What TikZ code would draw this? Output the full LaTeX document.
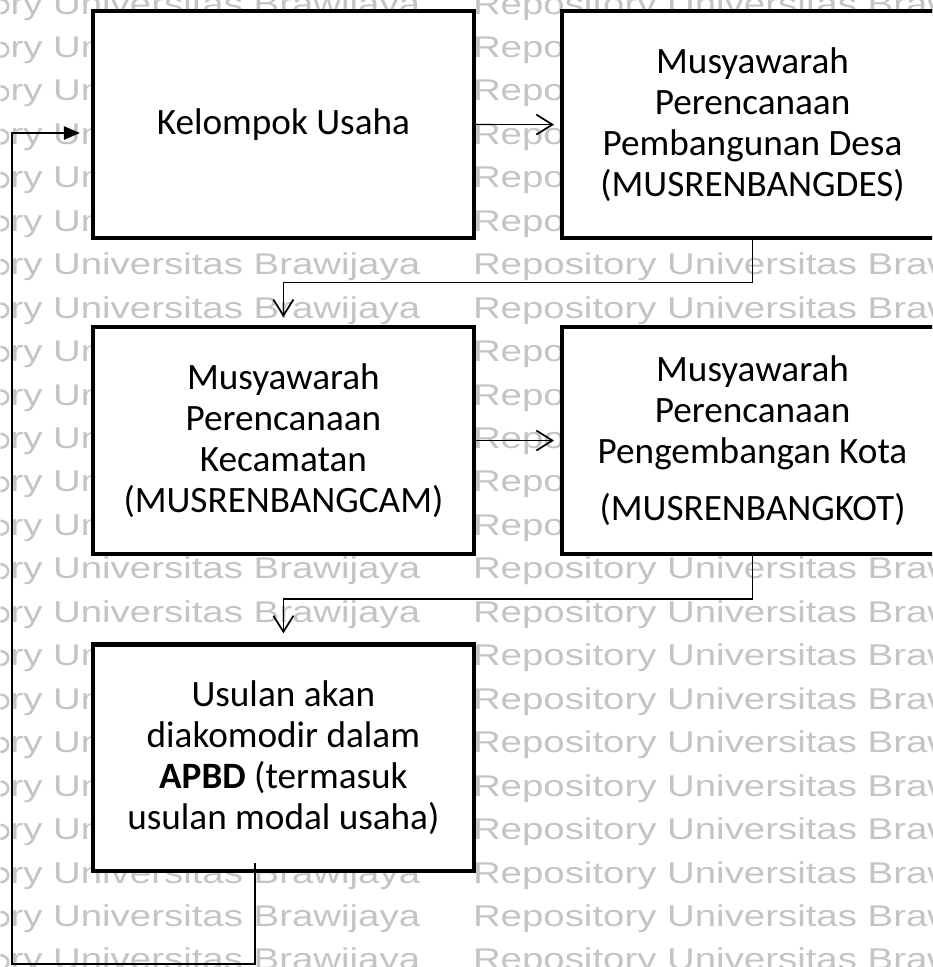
\documentclass[tikz,border=0pt]{standalone}
\usepackage{fontspec}
\setmainfont{Carlito}
\newfontfamily\wmfont{Liberation Sans}
\usetikzlibrary{arrows.meta}
\definecolor{wmgray}{RGB}{196,196,196}
\newcommand{\stagefont}{\fontsize{27.9pt}{30.6pt}\selectfont}
\newcommand{\wmtext}[1]{\scalebox{1.28}[1]{#1}}
\tikzset{
  px/.style={x=0.75pt,y=-0.75pt},
  stagebase/.style={draw=black, line width=3.2pt, fill=white,
    minimum height=170pt, inner sep=0pt, outer sep=0pt,
    font=\stagefont},
  stage/.style={stagebase, minimum width=285.75pt, align=center},
  % boxes of the right column run on past the right edge
  widestage/.style={stagebase, minimum width=330pt, anchor=west},
  flow/.style={draw=black, line width=1.3pt,
    -{Straight Barb[length=12pt,width=15pt]}},
  backflow/.style={draw=black, line width=1.2pt,
    -{Triangle[length=12pt,width=10pt]}},
  wmark/.style={anchor=base west, inner sep=0pt, outer sep=0pt,
    text=wmgray, font=\wmfont\fontsize{22.5pt}{22.5pt}\selectfont},
  wmring/.style={draw=wmgray, line width=1.9pt, line cap=butt},
}
\newcommand{\widetext}[1]{\parbox{285.75pt}{\centering #1}\hspace*{44.25pt}}
\begin{document}
\begin{tikzpicture}[px]
\useasboundingbox (0,0) rectangle (932,967);
\clip (0,0) rectangle (932,967);

% background repository text: left column on every row,
% the visible half of its first letter drawn as an arc at the left edge
\foreach \k in {0,...,22}{
  \pgfmathsetmacro\by{14+43.45*\k}
  \draw[wmring] (0.5,\by-0.7) arc[start angle=90, end angle=-90, x radius=7.7, y radius=7];
  \node[wmark] (wmL\k) at (10.5,\by) {\wmtext{ry Universitas Brawijaya}};
}
% right column: full rows where nothing covers them
\foreach \k in {0,6,7,13,14,15,16,17,18,19,20,21,22}{
  \pgfmathsetmacro\by{14+43.45*\k}
  \node[wmark] (wmR\k) at (473,\by) {\wmtext{Repository Universitas Brawijaya}};
}
% right column: rows behind the right-hand boxes, only the first word shows
\foreach \k in {1,...,5,8,9,10,11,12}{
  \pgfmathsetmacro\by{14+43.45*\k}
  \node[wmark] (wmR\k) at (473,\by) {\wmtext{Repository}};
}

% process stages
\node[stage] (kel) at (283.4,124.6) {Kelompok Usaha};
\node[widestage] (desa) at (562,124.6) {\widetext{Musyawarah\\ Perencanaan\\ Pembangunan Desa\\ (MUSRENBANGDES)}};
\node[stage] (kec) at (283.4,440.5) {Musyawarah\\ Perencanaan\\ Kecamatan\\ (MUSRENBANGCAM)};
\node[widestage] (kota) at (562,440.5) {\widetext{Musyawarah\\ Perencanaan\\ Pengembangan Kota\\[12pt] (MUSRENBANGKOT)}};
\node[stage] (apbd) at (283.4,757.7) {Usulan akan\\ diakomodir dalam\\ \textbf{APBD} (termasuk\\ usulan modal usaha)};

% forward flow
\draw[flow, shorten >=6pt] (kel.east) -- (desa.west);
\draw[flow, shorten >=7.5pt] ([xshift=142.8pt]desa.south west) -- ++(0,44.5) -| (kec.north);
\draw[flow, shorten >=6pt] (kec.east) -- (kota.west);
\draw[flow, shorten >=8.25pt] ([xshift=142.8pt]kota.south west) -- ++(0,45) -| (apbd.north);

% feedback loop back to the business group
\coordinate (fbStart) at (255,863);
\coordinate (fbLow) at (255,964);
\coordinate (fbLeft) at (12,964);
\coordinate (fbIn) at (12,133);
\draw[backflow, shorten >=9.75pt] (fbStart) -- (fbLow) -- (fbLeft) -- (fbIn) -- (kel.west |- fbIn);
\end{tikzpicture}
\end{document}
